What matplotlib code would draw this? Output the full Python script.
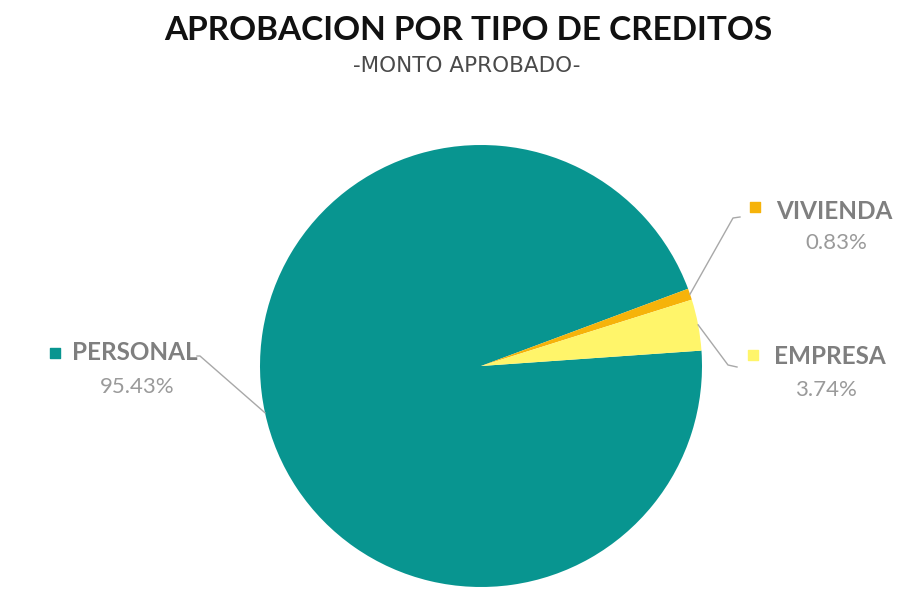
import matplotlib
matplotlib.use('Agg')
import matplotlib.pyplot as plt
import numpy as np

categories = ['PERSONAL', 'VIVIENDA', 'EMPRESA']
shares = [95.43, 0.83, 3.74]
colors = ['#089590', '#F6B30A', '#FFF56A']

W, H = 912, 604
fig = plt.figure(figsize=(W / 100, H / 100), dpi=100)
ax = fig.add_axes([0, 0, 1, 1])

cx, cy, r = 481, H - 366, 221
start = 4
wedges, _ = ax.pie(shares, colors=colors, startangle=start, counterclock=False,
                   center=(cx, cy), radius=r, frame=True,
                   wedgeprops=dict(linewidth=0))
ax.set_xlim(0, W)
ax.set_ylim(0, H)
ax.set_aspect('equal')
ax.axis('off')

fig.text(468 / W, 1 - 31 / H, 'APROBACION POR TIPO DE CREDITOS', ha='center', va='center',
         fontsize=24, fontweight='bold', family='Lato', color='#111111')
fig.text(467 / W, 1 - 66 / H, '-MONTO APROBADO-', ha='center', va='center',
         fontsize=15.5, family='DejaVu Sans', color='#4a4a4a')

# label layout: (elbow, line end, marker, name pos, pct pos) in pixel coords
layout = {
    'PERSONAL': [(200, 356), (197, 356), (55, 353), (72, 353), (137, 387)],
    'VIVIENDA': [(733, 218), (740, 217), (755, 207), (776, 211), (836, 243)],
    'EMPRESA': [(728, 365), (737, 367), (753, 355), (774, 357), (826, 390)],
}

for w, name, pct, col in zip(wedges, categories, shares, colors):
    mid = np.deg2rad((w.theta1 + w.theta2) / 2)
    x0, y0 = cx + r * np.cos(mid), cy + r * np.sin(mid)
    elbow, end, mk, tp, pp = layout[name]
    ax.plot([x0, elbow[0], end[0]], [y0, H - elbow[1], H - end[1]],
            color='#a8a8a8', lw=1)
    ax.scatter([mk[0]], [H - mk[1]], marker='s', s=60, color=col)
    ax.text(tp[0], H - tp[1], name, ha='left', va='center', fontsize=17.5,
            fontweight='bold', family='Lato', color='#7f7f7f')
    ax.text(pp[0], H - pp[1], f'{pct:.2f}%', ha='center', va='center', fontsize=16,
            family='Lato', color='#9a9a9a')

fig.savefig('out.png', dpi=100, facecolor='white')
